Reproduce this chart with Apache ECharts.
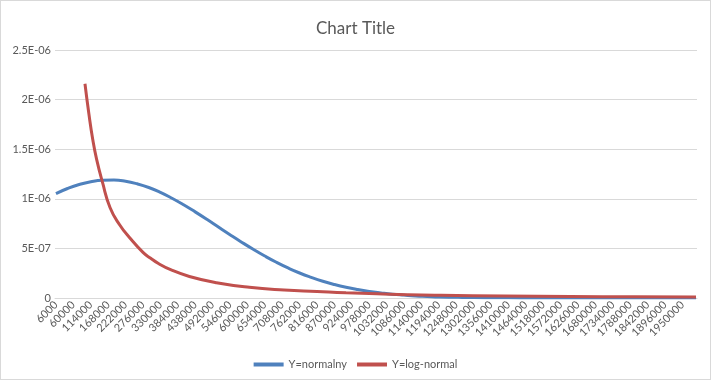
<!DOCTYPE html>
<html>
<head>
<meta charset="utf-8">
<script src="https://cdn.jsdelivr.net/npm/echarts@6/dist/echarts.min.js"></script>
<style>
html,body{margin:0;padding:0;background:#fff;}
#c{width:709px;height:378px;border:1px solid #d9d9d9;}
</style>
</head>
<body>
<div id="c"></div>
<script>
// X axis: categories 6000 .. 1992000, step 6000
const xStart = 6000, xStep = 6000, xCount = 332;
const categories = [];
for (let i = 0; i < xCount; i++) categories.push(String(xStart + i * xStep));

const yTickLabels = ['0', '5E-07', '1E-06', '1.5E-06', '2E-06', '2.5E-06'];

// Y=normalny
const normX = [6000, 42000, 78000, 114000, 150000, 186000, 222000, 258000, 294000, 330000,
  366000, 402000, 438000, 474000, 510000, 546000, 582000, 618000, 654000, 690000,
  726000, 762000, 798000, 834000, 870000, 906000, 942000, 978000, 1014000, 1050000,
  1086000, 1122000, 1158000, 1194000, 1266000, 1338000, 1410000, 1482000, 1554000, 1626000,
  1800000, 1992000];
const normY = [1.053e-6, 1.104e-6, 1.144e-6, 1.172e-6, 1.187e-6, 1.189e-6, 1.177e-6, 1.151e-6, 1.114e-6, 1.065e-6,
  1.006e-6, 9.40e-7, 8.68e-7, 7.93e-7, 7.15e-7, 6.38e-7, 5.63e-7, 4.91e-7, 4.23e-7, 3.60e-7,
  3.03e-7, 2.52e-7, 2.08e-7, 1.69e-7, 1.36e-7, 1.08e-7, 8.5e-8, 6.6e-8, 5.1e-8, 3.8e-8,
  2.9e-8, 2.1e-8, 1.6e-8, 1.1e-8, 5.7e-9, 2.8e-9, 1.3e-9, 5e-10, 2e-10, 1e-10,
  0, 0];

// Y=log-normal
const logX = [96000, 108000, 120000, 132000, 150000, 174000, 204000, 234000, 276000, 300000,
  324000, 360000, 420000, 504000, 606000, 714000, 816000, 906000, 1002000, 1098000,
  1200000, 1398000, 1602000, 1800000, 1992000];
const logY = [2.16e-6, 1.86e-6, 1.60e-6, 1.40e-6, 1.17e-6, 9.1e-7, 7.36e-7, 6.1e-7, 4.6e-7, 4.0e-7,
  3.48e-7, 2.88e-7, 2.17e-7, 1.54e-7, 1.08e-7, 8.1e-8, 6.6e-8, 5.3e-8, 4.3e-8, 3.3e-8,
  2.7e-8, 2.0e-8, 1.5e-8, 1.2e-8, 1.0e-8];

const seriesNames = ['Y=normalny', 'Y=log-normal'];
const colors = ['#4F81BD', '#C0504D'];

const chart = echarts.init(document.getElementById('c'), null, {renderer: 'canvas'});
const font = 'Lato, "DejaVu Sans", sans-serif';
chart.setOption({
  animation: false,
  color: colors,
  title: {
    text: 'Chart Title', left: 'center', top: 14,
    textStyle: {fontFamily: font, fontSize: 17, fontWeight: 'normal', color: '#595959'}
  },
  legend: {
    bottom: 4, left: 'center', itemWidth: 30, itemHeight: 4, itemGap: 10, icon: 'rect',
    textStyle: {fontFamily: font, fontSize: 11, color: '#595959'},
    data: seriesNames
  },
  grid: {left: 54, right: 13, top: 49, bottom: 81, containLabel: false},
  xAxis: {
    type: 'category', data: categories, boundaryGap: true,
    axisLine: {lineStyle: {color: '#d9d9d9'}},
    axisTick: {show: false},
    axisLabel: {interval: 8, rotate: 45, margin: 5, fontFamily: font, fontSize: 11, color: '#595959'}
  },
  yAxis: {
    type: 'value', min: 0, max: 2.5e-6, interval: 5e-7,
    axisLine: {show: false}, axisTick: {show: false},
    splitLine: {lineStyle: {color: '#d9d9d9'}},
    axisLabel: {
      margin: 4, fontFamily: font, fontSize: 11, color: '#595959',
      formatter: v => yTickLabels[Math.round(v / 5e-7)]
    }
  },
  series: [
    {
      name: seriesNames[0], type: 'line', showSymbol: false, smooth: 0.5,
      lineStyle: {width: 3, color: colors[0]},
      data: normX.map((x, i) => [String(x), normY[i]])
    },
    {
      name: seriesNames[1], type: 'line', showSymbol: false, smooth: 0.5,
      lineStyle: {width: 3, color: colors[1]},
      data: logX.map((x, i) => [String(x), logY[i]])
    }
  ]
});
</script>
</body>
</html>
